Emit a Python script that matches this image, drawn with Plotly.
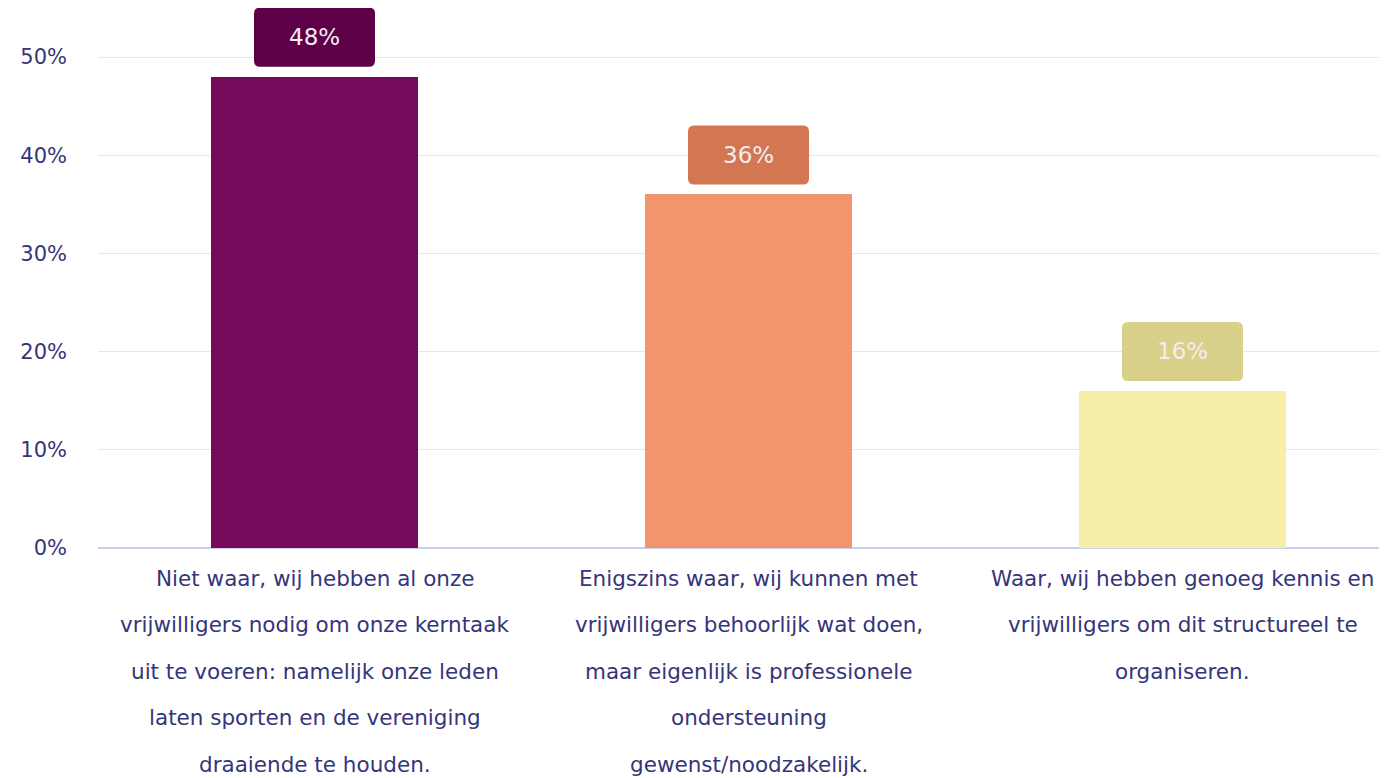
import plotly.graph_objects as go

categories = [
    "Niet waar, wij hebben al onze<br>vrijwilligers nodig om onze kerntaak<br>uit te voeren: namelijk onze leden<br>laten sporten en de vereniging<br>draaiende te houden.",
    "Enigszins waar, wij kunnen met<br>vrijwilligers behoorlijk wat doen,<br>maar eigenlijk is professionele<br>ondersteuning<br>gewenst/noodzakelijk.",
    "Waar, wij hebben genoeg kennis en<br>vrijwilligers om dit structureel te<br>organiseren.",
]
values = [48, 36, 16]
value_labels = ["48%", "36%", "16%"]
bar_colors = ["#760A5A", "#F2956F", "#F7EEA8"]
box_colors = ["#5E0048", "#D27752", "#D9D089"]
ytick_vals = [0, 10, 20, 30, 40, 50]
ytick_text = ["0%", "10%", "20%", "30%", "40%", "50%"]

FONT = "DejaVu Sans"
TXT = "#35357A"

x = list(range(len(values)))
fig = go.Figure()
fig.add_trace(go.Bar(x=x, y=values, marker=dict(color=bar_colors, line=dict(width=0)),
                     width=0.477, hoverinfo="skip"))

# rounded value boxes
w, h, r, gap = 121, 59, 6, 10
hw = w / 2
path = (f"M {-hw+r},{gap} L {hw-r},{gap} Q {hw},{gap} {hw},{gap+r} "
        f"L {hw},{gap+h-r} Q {hw},{gap+h} {hw-r},{gap+h} "
        f"L {-hw+r},{gap+h} Q {-hw},{gap+h} {-hw},{gap+h-r} "
        f"L {-hw},{gap+r} Q {-hw},{gap} {-hw+r},{gap} Z")
for i, v in enumerate(values):
    fig.add_shape(type="path", xref="x", yref="y", xsizemode="pixel", ysizemode="pixel",
                  xanchor=i, yanchor=v, path=path, fillcolor=box_colors[i],
                  line=dict(width=0), layer="above")
    fig.add_annotation(x=i, y=v, xref="x", yref="y", text=value_labels[i], showarrow=False,
                       yanchor="middle", yshift=gap + h / 2,
                       font=dict(family=FONT, size=23, color="#F4ECF2"))

# category labels with generous line spacing
for i, c in enumerate(categories):
    for k, line in enumerate(c.split("<br>")):
        fig.add_annotation(x=i, y=0, xref="x", yref="y", text=line, showarrow=False,
                           yanchor="middle", yshift=-(30 + k * 46.5),
                           font=dict(family=FONT, size=21.5, color=TXT))

# page has an 8px body margin
left = 90
plot_w = 1387 - left
step = 434
x0 = -0.5 + (left + 8 - 97.5) / step
fig.update_layout(
    width=1387, height=778,
    margin=dict(l=left, r=0, t=0, b=238),
    paper_bgcolor="white", plot_bgcolor="white",
    showlegend=False, bargap=0,
    xaxis=dict(range=[x0, x0 + plot_w / step], showticklabels=False, showgrid=False,
               zeroline=False, showline=False, fixedrange=True),
    yaxis=dict(range=[0, 540 / 9.82], tickvals=ytick_vals, ticktext=ytick_text,
               showgrid=True, gridcolor="#E6E6E6", gridwidth=1,
               zeroline=True, zerolinecolor="#C8D0E8", zerolinewidth=1.5,
               ticklabelstandoff=30,
               tickfont=dict(family=FONT, size=21, color=TXT), fixedrange=True),
)
fig.write_html("out.html")
